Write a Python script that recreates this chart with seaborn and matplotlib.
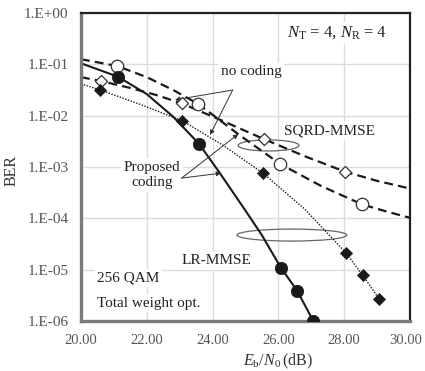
import numpy as np
import pandas as pd
import matplotlib
matplotlib.use("Agg")
import matplotlib.pyplot as plt
from matplotlib.patches import Ellipse
from matplotlib.transforms import ScaledTranslation
import seaborn as sns

# ---------------- data ----------------
# SQRD-MMSE, no coding (dashed, open diamonds)
sqrd_nc_line_x = [20.0, 20.6, 21.5, 22.3, 23.06, 24.3, 25.56, 26.8, 28.02, 29.0, 30.0]
sqrd_nc_line_y = [10**-1.25, 10**-1.325, 10**-1.46, 10**-1.60, 10**-1.76, 10**-2.10,
                  10**-2.456, 10**-2.79, 10**-3.09, 10**-3.27, 10**-3.42]
sqrd_nc_pts_x = [20.6, 23.06, 25.56, 28.02]
sqrd_nc_pts_y = [0.047, 0.0174, 0.0035, 8.1e-4]

# SQRD-MMSE, proposed coding (dashed, open circles)
sqrd_pc_line_x = [20.0, 21.1, 22.0, 22.8, 23.57, 24.8, 26.05, 27.3, 28.55, 29.3, 30.0]
sqrd_pc_line_y = [10**-0.90, 10**-1.033, 10**-1.25, 10**-1.50, 10**-1.774, 10**-2.37,
                  10**-2.94, 10**-3.37, 10**-3.73, 10**-3.87, 10**-3.99]
sqrd_pc_pts_x = [21.1, 23.57, 26.05, 28.55]
sqrd_pc_pts_y = [0.093, 0.0168, 0.00114, 1.87e-4]

# LR-MMSE, proposed coding (solid, filled circles)
lr_pc_line_x = [20.0, 21.12, 22.0, 22.8, 23.59, 24.2, 25.0, 25.5, 26.07, 26.57, 27.06]
lr_pc_line_y = [10**-0.98, 10**-1.24, 10**-1.58, 10**-2.02, 10**-2.55, 10**-3.10,
                10**-3.85, 10**-4.33, 10**-4.957, 10**-5.41, 10**-6.0]
lr_pc_pts_x = [21.12, 23.59, 26.07, 26.57, 27.06]
lr_pc_pts_y = [0.057, 0.0028, 1.1e-5, 3.9e-6, 1.0e-6]

# LR-MMSE, no coding (dotted, filled diamonds)
lr_nc_line_x = [20.0, 20.58, 21.8, 23.08, 24.3, 25.54, 26.8, 28.05, 28.56, 29.05]
lr_nc_line_y = [10**-1.38, 10**-1.50, 10**-1.78, 10**-2.10, 10**-2.57, 10**-3.125,
                10**-3.82, 10**-4.67, 10**-5.107, 10**-5.56]
lr_nc_pts_x = [20.58, 23.08, 25.54, 28.05, 28.56, 29.05]
lr_nc_pts_y = [0.031, 0.0079, 7.5e-4, 2.1e-5, 7.8e-6, 2.7e-6]

x_ticks = [20, 22, 24, 26, 28, 30]
x_tick_labels = ["20.00", "22.00", "24.00", "26.00", "28.00", "30.00"]
y_ticks = [1e0, 1e-1, 1e-2, 1e-3, 1e-4, 1e-5, 1e-6]
y_tick_labels = ["1.E+00", "1.E-01", "1.E-02", "1.E-03", "1.E-04", "1.E-05", "1.E-06"]

# ---------------- style ----------------
sns.set_style("white")
plt.rcParams["font.family"] = ["Liberation Serif", "DejaVu Serif"]
plt.rcParams["mathtext.fontset"] = "custom"
plt.rcParams["mathtext.rm"] = "Liberation Serif"
plt.rcParams["mathtext.it"] = "Liberation Serif:italic"

fig = plt.figure(figsize=(4.25, 3.71), dpi=100)
ax = fig.add_axes([81/425, 1-321/371, 329/425, 308/371])

dark = "#1a1a1a"

def line_df(x, y):
    return pd.DataFrame({"x": x, "y": y})

# lines
sns.lineplot(data=line_df(sqrd_nc_line_x, sqrd_nc_line_y), x="x", y="y", ax=ax,
             color=dark, lw=1.6, sort=False, estimator=None, zorder=2)
ax.lines[-1].set_dashes([4, 2.3])
sns.lineplot(data=line_df(sqrd_pc_line_x, sqrd_pc_line_y), x="x", y="y", ax=ax,
             color=dark, lw=1.6, sort=False, estimator=None, zorder=2)
ax.lines[-1].set_dashes([4, 2.3])
sns.lineplot(data=line_df(lr_pc_line_x, lr_pc_line_y), x="x", y="y", ax=ax,
             color=dark, lw=1.5, sort=False, estimator=None, zorder=2)
sns.lineplot(data=line_df(lr_nc_line_x, lr_nc_line_y), x="x", y="y", ax=ax,
             color=dark, lw=1.0, sort=False, estimator=None, zorder=2)
ax.lines[-1].set_dashes([1, 1.1])

# markers
sns.scatterplot(x=sqrd_nc_pts_x, y=sqrd_nc_pts_y, ax=ax, marker="D", s=38,
                facecolor="white", edgecolor="#333333", linewidth=0.9, zorder=4)
sns.scatterplot(x=sqrd_pc_pts_x, y=sqrd_pc_pts_y, ax=ax, marker="o", s=80,
                facecolor="white", edgecolor="#333333", linewidth=0.9, zorder=4)
sns.scatterplot(x=lr_pc_pts_x, y=lr_pc_pts_y, ax=ax, marker="o", s=80,
                facecolor=dark, edgecolor=dark, linewidth=0.5, zorder=4)
sns.scatterplot(x=lr_nc_pts_x, y=lr_nc_pts_y, ax=ax, marker="D", s=38,
                facecolor=dark, edgecolor=dark, linewidth=0.5, zorder=4)

# axes
ax.set_yscale("log")
ax.set_xlim(20, 30)
ax.set_ylim(1e-6, 1e0)
ax.set_xticks(x_ticks)
ax.set_xticklabels(x_tick_labels)
ax.set_yticks(y_ticks)
ax.set_yticklabels(y_tick_labels)
ax.minorticks_off()
ax.tick_params(axis="both", length=0, labelsize=11, labelcolor="#555555")
ax.tick_params(axis="x", labelsize=10.5)
ax.tick_params(axis="y", pad=9)
ax.tick_params(axis="x", pad=9)
last = ax.get_xticklabels()[-1]
last.set_transform(last.get_transform() + ScaledTranslation(-4/100, 0, fig.dpi_scale_trans))
ax.set_axisbelow(True)
ax.grid(True, color="#dcdcdc", lw=1.0)
for s in ["top", "right"]:
    ax.spines[s].set_color("#222222")
    ax.spines[s].set_linewidth(1.6)
for s in ["left", "bottom"]:
    ax.spines[s].set_color("#7a7a7a")
    ax.spines[s].set_linewidth(2.4)

ax.set_xlabel(r"$E_{\mathrm{b}}/N_0\,$(dB)", fontsize=11.5, color="#333333")
ax.set_ylabel("BER", fontsize=11.5, color="#333333")
ax.xaxis.label.set_va("center")
ax.yaxis.label.set_va("center")
ax.xaxis.set_label_coords(0.598, -0.13)
ax.yaxis.set_label_coords(-0.21, 0.49)

# annotations
tb = dict(boxstyle="square,pad=0.15", fc="white", ec="none")
tcol = "#222222"
ax.text(0.777, 0.935, r"$N_{\mathrm{T}}$ = 4, $N_{\mathrm{R}}$ = 4", transform=ax.transAxes,
        ha="center", va="center", fontsize=12, color=tcol, bbox=tb, zorder=1)
ax.text(0.519, 0.810, "no coding", transform=ax.transAxes, ha="center", va="center",
        fontsize=11, color=tcol, bbox=tb, zorder=1)
ax.text(0.216, 0.474, "Proposed\ncoding", transform=ax.transAxes, ha="center", va="center",
        fontsize=11, color=tcol, bbox=tb, zorder=1, linespacing=1.25)
ax.text(0.754, 0.617, "SQRD-MMSE", transform=ax.transAxes, ha="center", va="center",
        fontsize=11, color=tcol, bbox=tb, zorder=1)
ax.text(0.413, 0.195, "LR-MMSE", transform=ax.transAxes, ha="center", va="center",
        fontsize=11, color=tcol, bbox=tb, zorder=1)
ax.text(0.049, 0.140, "256 QAM", transform=ax.transAxes, ha="left", va="center",
        fontsize=11, color=tcol, bbox=tb, zorder=1)
ax.text(0.049, 0.058, "Total weight opt.", transform=ax.transAxes, ha="left", va="center",
        fontsize=11, color=tcol, bbox=tb, zorder=1)

ap = dict(arrowstyle="-|>", color="#333333", lw=0.7, mutation_scale=7, shrinkA=0, shrinkB=0)
for tip in [(0.286, 0.718), (0.392, 0.604)]:
    ax.annotate("", xy=tip, xytext=(0.461, 0.750), xycoords="axes fraction",
                textcoords="axes fraction", arrowprops=ap, zorder=3)
for tip in [(0.478, 0.607), (0.426, 0.480)]:
    ax.annotate("", xy=tip, xytext=(0.306, 0.464), xycoords="axes fraction",
                textcoords="axes fraction", arrowprops=ap, zorder=3)

ax.add_patch(Ellipse((0.570, 0.570), 0.185, 0.036, transform=ax.transAxes,
                     fill=False, ec="#666666", lw=0.9, zorder=1.8))
ax.add_patch(Ellipse((0.641, 0.279), 0.334, 0.039, transform=ax.transAxes,
                     fill=False, ec="#666666", lw=0.9, zorder=1.8))

fig.savefig("out.png", dpi=100, facecolor="white")
